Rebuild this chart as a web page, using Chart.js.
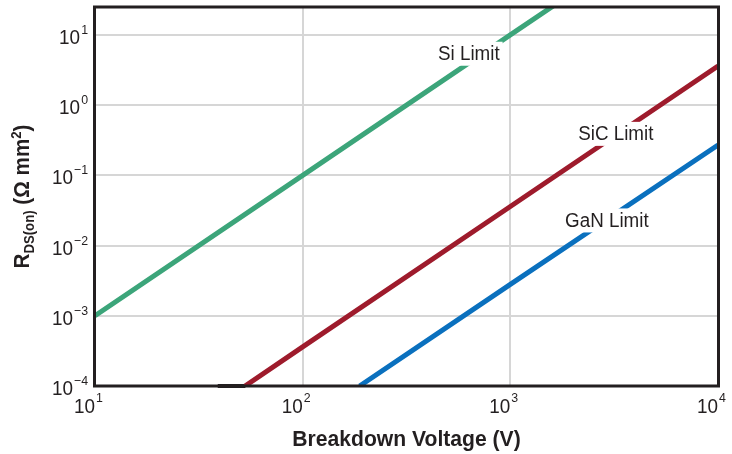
<!DOCTYPE html>
<html>
<head>
<meta charset="utf-8">
<script src="https://cdn.jsdelivr.net/npm/chart.js@4/dist/chart.umd.min.js"></script>
<style>
html,body{margin:0;padding:0;background:#fff;}
#wrap{width:732px;height:454px;position:relative;}
</style>
</head>
<body>
<div id="wrap"><canvas id="c" width="732" height="454"></canvas></div>
<script>
// ---- data ----
const siVoltage  = [10, 100, 1000, 2000];
const siRdson    = [1e-3, 1e-1, 10, 40];
const sicVoltage = [52.8, 100, 1000, 10000];
const sicRdson   = [1e-4, 3.6e-4, 3.6e-2, 3.6];
const ganVoltage = [188, 1000, 10000];
const ganRdson   = [1e-4, 2.8e-3, 0.27];
const baseVoltage = [39, 53];
const baseRdson   = [1e-4, 1e-4];

const xTickValues = [10, 100, 1000, 10000];
const xTickExps   = ['1', '2', '3', '4'];
const yTickValues = [1e-4, 1e-3, 1e-2, 1e-1, 1, 10];
const yTickExps   = ['\u22124', '\u22123', '\u22122', '\u22121', '0', '1'];

const seriesLabels = ['Si Limit', 'SiC Limit', 'GaN Limit'];
const labelVoltage = [631, 3220, 2917];
const labelRdson   = [5.4, 0.39, 0.0228];

const xTitle = 'Breakdown Voltage (V)';

const TXT = '#231f20';
const FONT = '"Liberation Sans", Arial, Helvetica, sans-serif';

function pts(xs, ys){ return xs.map((x,i)=>({x:x, y:ys[i]})); }

// draw horizontally condensed text
function condText(ctx, t, x, y, align, sx){
  ctx.save();
  ctx.translate(x, y);
  ctx.scale(sx, 1);
  ctx.textAlign = align;
  ctx.fillText(t, 0, 0);
  ctx.restore();
}

const decor = {
  id: 'decor',
  afterDatasetsDraw(chart){
    const ctx = chart.ctx, xs = chart.scales.x, ys = chart.scales.y;
    ctx.save();
    ctx.font = '20px ' + FONT;
    ctx.textBaseline = 'middle';
    seriesLabels.forEach((t,i)=>{
      const px = xs.getPixelForValue(labelVoltage[i]);
      const py = ys.getPixelForValue(labelRdson[i]);
      const w = ctx.measureText(t).width * 0.94;
      ctx.fillStyle = '#fff';
      ctx.fillRect(px - w/2 - 3, py - 12, w + 6, 24);
      ctx.fillStyle = TXT;
      condText(ctx, t, px, py + 1, 'center', 0.94);
    });
    ctx.restore();
  },
  afterDraw(chart){
    const ctx = chart.ctx, a = chart.chartArea, xs = chart.scales.x, ys = chart.scales.y;
    ctx.save();
    // frame
    ctx.strokeStyle = TXT;
    ctx.lineWidth = 3;
    ctx.strokeRect(a.left - 0.5, a.top, a.right - a.left + 1, a.bottom - a.top);
    ctx.fillStyle = TXT;
    ctx.textBaseline = 'alphabetic';
    // x ticks
    xTickValues.forEach((v,i)=>{
      const px = xs.getPixelForValue(v);
      ctx.font = '21px ' + FONT;
      condText(ctx, '10', px, 413, 'right', 0.9);
      ctx.font = '13px ' + FONT;
      condText(ctx, xTickExps[i], px + 1, 402, 'left', 0.95);
    });
    // y ticks
    yTickValues.forEach((v,i)=>{
      const py = ys.getPixelForValue(v);
      ctx.font = '13px ' + FONT;
      const ew = ctx.measureText(yTickExps[i]).width * 0.95;
      condText(ctx, yTickExps[i], 88, py - 1, 'right', 0.95);
      ctx.font = '21px ' + FONT;
      condText(ctx, '10', 88 - ew - 1, py + 9, 'right', 0.9);
    });
    // x title
    ctx.font = 'bold 22px ' + FONT;
    condText(ctx, xTitle, (a.left + a.right)/2, 446, 'center', 0.96);
    // y title
    const parts = [
      {t:'R', f:'bold 22px ', dy:0},
      {t:'DS(on)', f:'bold 14px ', dy:5},
      {t:' (\u03A9 mm', f:'bold 22px ', dy:0},
      {t:'2', f:'bold 14px ', dy:-8},
      {t:')', f:'bold 22px ', dy:0}
    ];
    const sx = 0.94;
    let total = 0;
    parts.forEach(p=>{ ctx.font = p.f + FONT; p.w = ctx.measureText(p.t).width * sx; total += p.w; });
    ctx.translate(29, (a.top + a.bottom)/2);
    ctx.rotate(-Math.PI/2);
    let cx = -total/2;
    parts.forEach(p=>{ ctx.font = p.f + FONT; condText(ctx, p.t, cx, p.dy, 'left', sx); cx += p.w; });
    ctx.restore();
  }
};

new Chart(document.getElementById('c'), {
  type: 'line',
  data: {
    datasets: [
      {label:'Si Limit', data: pts(siVoltage, siRdson), borderColor:'#3ca57a', borderWidth:5, pointRadius:0, clip:0},
      {label:'SiC Limit', data: pts(sicVoltage, sicRdson), borderColor:'#9e1b2c', borderWidth:5, pointRadius:0, clip:0},
      {label:'GaN Limit', data: pts(ganVoltage, ganRdson), borderColor:'#0a70be', borderWidth:5, pointRadius:0, clip:0},
      {label:'base', data: pts(baseVoltage, baseRdson), borderColor:'#231f20', borderWidth:4, pointRadius:0, clip:false}
    ]
  },
  options: {
    responsive: false,
    animation: false,
    layout: {padding: {left: 95, right: 14, top: 7, bottom: 68}},
    plugins: {legend:{display:false}, tooltip:{enabled:false}},
    scales: {
      x: {
        type: 'logarithmic', min: 10, max: 10000,
        afterBuildTicks: (ax)=>{ ax.ticks = xTickValues.map(v=>({value:v})); },
        ticks: {display:false},
        grid: {color:'#d6d6d6', lineWidth:2, drawTicks:false},
        border: {display:false}
      },
      y: {
        type: 'logarithmic', min: 1e-4, max: 25,
        afterBuildTicks: (ax)=>{ ax.ticks = yTickValues.map(v=>({value:v})); },
        ticks: {display:false},
        grid: {color:'#d6d6d6', lineWidth:2, drawTicks:false},
        border: {display:false}
      }
    }
  },
  plugins: [decor]
});
</script>
</body>
</html>
